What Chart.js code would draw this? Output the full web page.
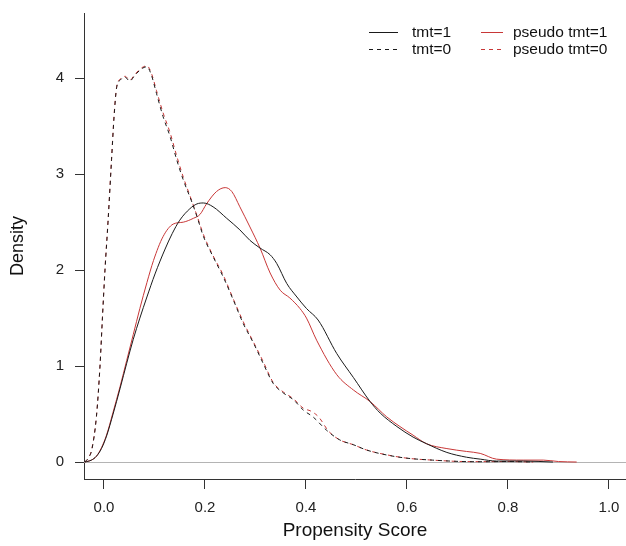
<!DOCTYPE html>
<html>
<head>
<meta charset="utf-8">
<script src="https://cdn.jsdelivr.net/npm/chart.js@4"></script>
<style>
  body { margin: 0; background: #fff; }
  #wrap { width: 626px; height: 546px; }
</style>
</head>
<body>
<div id="wrap"><canvas id="densidad" width="626" height="546"></canvas></div>
<script>
// density curves (x = propensity score, y = density)
const tmt1X = [-0.038, -0.025, -0.015, -0.005, 0.005, 0.018, 0.032, 0.045, 0.058, 0.071, 0.085, 0.101, 0.121, 0.135, 0.15, 0.17, 0.184, 0.197, 0.216, 0.243, 0.269, 0.289, 0.309, 0.329, 0.342, 0.362, 0.382, 0.401, 0.424, 0.461, 0.494, 0.527, 0.547, 0.58, 0.612, 0.639, 0.679, 0.718, 0.745, 0.777, 0.83, 0.889];
const tmt1Y = [0.0, 0.02, 0.06, 0.14, 0.27, 0.5, 0.77, 1.03, 1.28, 1.5, 1.72, 1.96, 2.22, 2.38, 2.52, 2.64, 2.69, 2.7, 2.66, 2.54, 2.42, 2.31, 2.23, 2.16, 2.07, 1.86, 1.72, 1.6, 1.48, 1.13, 0.88, 0.63, 0.51, 0.37, 0.26, 0.19, 0.1, 0.05, 0.03, 0.01, 0.01, 0.0];

const tmt0X = [-0.038, -0.03, -0.024, -0.015, -0.008, -0.003, 0.002, 0.008, 0.015, 0.02, 0.025, 0.032, 0.042, 0.051, 0.061, 0.075, 0.085, 0.094, 0.104, 0.117, 0.131, 0.144, 0.157, 0.174, 0.184, 0.197, 0.216, 0.236, 0.256, 0.276, 0.296, 0.315, 0.335, 0.355, 0.375, 0.395, 0.414, 0.441, 0.467, 0.494, 0.52, 0.56, 0.6, 0.65, 0.705, 0.75, 0.8, 0.85];
const tmt0Y = [0.0, 0.05, 0.13, 0.47, 0.99, 1.51, 2.0, 2.5, 3.15, 3.6, 3.9, 3.98, 4.01, 3.97, 4.03, 4.1, 4.12, 4.03, 3.84, 3.6, 3.39, 3.15, 2.94, 2.71, 2.56, 2.35, 2.14, 1.93, 1.69, 1.44, 1.24, 1.03, 0.82, 0.72, 0.65, 0.54, 0.47, 0.33, 0.23, 0.18, 0.125, 0.073, 0.04, 0.02, 0.006, 0.003, 0.005, 0.0];

const pseudo1X = [-0.038, -0.025, -0.015, -0.005, 0.005, 0.018, 0.032, 0.045, 0.058, 0.071, 0.085, 0.098, 0.117, 0.137, 0.157, 0.177, 0.19, 0.203, 0.223, 0.24, 0.253, 0.269, 0.289, 0.309, 0.329, 0.349, 0.368, 0.388, 0.401, 0.421, 0.461, 0.494, 0.527, 0.56, 0.586, 0.612, 0.639, 0.679, 0.718, 0.745, 0.777, 0.83, 0.87, 0.9, 0.936];
const pseudo1Y = [0.0, 0.02, 0.06, 0.15, 0.28, 0.52, 0.79, 1.06, 1.33, 1.6, 1.87, 2.1, 2.35, 2.48, 2.5, 2.54, 2.58, 2.69, 2.82, 2.86, 2.82, 2.66, 2.45, 2.23, 1.97, 1.79, 1.71, 1.6, 1.5, 1.27, 0.91, 0.75, 0.63, 0.47, 0.37, 0.28, 0.19, 0.14, 0.11, 0.09, 0.03, 0.02, 0.02, 0.005, 0.0];

const pseudo0X = [-0.038, -0.03, -0.024, -0.015, -0.008, -0.003, 0.002, 0.008, 0.015, 0.02, 0.025, 0.032, 0.042, 0.051, 0.061, 0.075, 0.085, 0.094, 0.104, 0.117, 0.131, 0.144, 0.157, 0.174, 0.184, 0.197, 0.216, 0.236, 0.256, 0.276, 0.296, 0.315, 0.335, 0.355, 0.375, 0.395, 0.41, 0.425, 0.445, 0.467, 0.494, 0.52, 0.56, 0.6, 0.65, 0.705, 0.75, 0.8, 0.85];
const pseudo0Y = [0.0, 0.05, 0.14, 0.48, 1.0, 1.52, 2.02, 2.52, 3.17, 3.62, 3.91, 3.99, 4.02, 3.98, 4.04, 4.11, 4.13, 4.05, 3.87, 3.64, 3.43, 3.19, 2.97, 2.72, 2.57, 2.37, 2.15, 1.95, 1.7, 1.46, 1.25, 1.05, 0.83, 0.73, 0.66, 0.56, 0.53, 0.47, 0.32, 0.23, 0.18, 0.125, 0.075, 0.04, 0.02, 0.006, 0.004, 0.005, 0.0];

const xTicks = [0, 0.2, 0.4, 0.6, 0.8, 1.0];
const yTicks = [0, 1, 2, 3, 4];

const rojo = 'rgb(200, 55, 55)';
const negro = '#1a1a1a';
const fuente = '"Liberation Sans", Arial, sans-serif';

function puntos(xs, ys) {
    return xs.map((x, i) => ({ x: x, y: ys[i] }));
}

// gray line at density 0
const lineaCero = {
    id: 'lineaCero',
    beforeDatasetsDraw(chart) {
        const { ctx, chartArea, scales } = chart;
        const y = Math.round(scales.y.getPixelForValue(0)) + 0.5;
        ctx.save();
        ctx.strokeStyle = '#b4b4b4';
        ctx.lineWidth = 1;
        ctx.beginPath();
        ctx.moveTo(chartArea.left, y);
        ctx.lineTo(chartArea.right, y);
        ctx.stroke();
        ctx.restore();
    }
};

// two-column legend like R's legend(ncol = 2)
const leyenda = {
    id: 'leyenda',
    afterDraw(chart) {
        const ctx = chart.ctx;
        const items = [
            { seg: [369, 398], tx: 412, y: 32, color: negro, dash: [], text: 'tmt=1' },
            { seg: [369, 398], tx: 412, y: 49, color: negro, dash: [4, 4], text: 'tmt=0' },
            { seg: [481, 503], tx: 513, y: 32, color: rojo, dash: [], text: 'pseudo tmt=1' },
            { seg: [481, 503], tx: 513, y: 49, color: rojo, dash: [4, 4], text: 'pseudo tmt=0' }
        ];
        ctx.save();
        ctx.font = '15.5px ' + fuente;
        ctx.textBaseline = 'middle';
        items.forEach(it => {
            ctx.strokeStyle = it.color;
            ctx.lineWidth = 1;
            ctx.setLineDash(it.dash);
            ctx.beginPath();
            ctx.moveTo(it.seg[0], it.y + 0.5);
            ctx.lineTo(it.seg[1], it.y + 0.5);
            ctx.stroke();
            ctx.fillStyle = '#111';
            ctx.fillText(it.text, it.tx, it.y + 1);
        });
        ctx.restore();
    }
};

const comun = { pointRadius: 0, borderWidth: 1, fill: false, cubicInterpolationMode: 'monotone' };

new Chart(document.getElementById('densidad'), {
    type: 'line',
    data: {
        datasets: [
            { ...comun, label: 'tmt=1', data: puntos(tmt1X, tmt1Y), borderColor: negro },
            { ...comun, label: 'tmt=0', data: puntos(tmt0X, tmt0Y), borderColor: negro, borderDash: [4, 4] },
            { ...comun, label: 'pseudo tmt=1', data: puntos(pseudo1X, pseudo1Y), borderColor: rojo },
            { ...comun, label: 'pseudo tmt=0', data: puntos(pseudo0X, pseudo0Y), borderColor: rojo, borderDash: [4, 4] }
        ]
    },
    options: {
        responsive: false,
        animation: false,
        layout: { padding: { top: 13, right: 0, left: 0, bottom: 0 } },
        plugins: { legend: { display: false }, tooltip: { enabled: false } },
        scales: {
            x: {
                type: 'linear',
                min: -0.0396,
                max: 1.0337,
                afterBuildTicks: s => { s.ticks = xTicks.map(v => ({ value: v })); },
                afterFit: s => {
                    s.height = 67;
                    s.paddingLeft = 0; s.paddingRight = 0; s.paddingTop = 0; s.paddingBottom = 0;
                },
                ticks: {
                    callback: v => v.toFixed(1),
                    font: { family: fuente, size: 15 },
                    color: '#222',
                    padding: 10,
                    maxRotation: 0
                },
                grid: { drawOnChartArea: false, tickLength: 10, color: '#333' },
                border: { color: '#333', width: 1 },
                title: {
                    display: true,
                    text: 'Propensity Score',
                    font: { family: fuente, size: 19 },
                    color: '#111',
                    padding: { top: 0, bottom: 4 }
                }
            },
            y: {
                min: -0.177,
                max: 4.68,
                afterBuildTicks: s => { s.ticks = yTicks.map(v => ({ value: v })); },
                afterFit: s => {
                    s.width = 84;
                    s.paddingLeft = 0; s.paddingRight = 0; s.paddingTop = 0; s.paddingBottom = 0;
                },
                ticks: {
                    font: { family: fuente, size: 15 },
                    color: '#222',
                    padding: 11
                },
                grid: { drawOnChartArea: false, tickLength: 9, color: '#333' },
                border: { color: '#333', width: 1 },
                title: {
                    display: true,
                    text: 'Density',
                    font: { family: fuente, size: 18 },
                    color: '#111',
                    padding: { top: 7, bottom: 0 }
                }
            }
        }
    },
    plugins: [lineaCero, leyenda]
});
</script>
</body>
</html>
